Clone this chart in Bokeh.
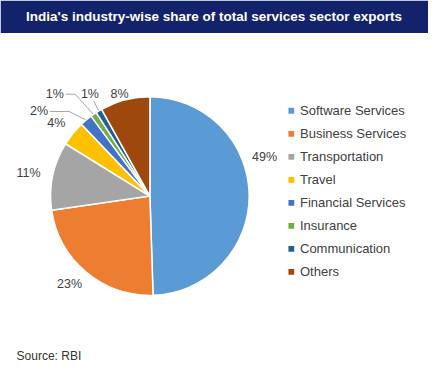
import math
from bokeh.plotting import figure
from bokeh.models import Range1d, ColumnDataSource
from bokeh.core.properties import value
from bokeh.embed import file_html
from bokeh.resources import INLINE

# ---------------- data ----------------
title_text = "India's industry-wise share of total services sector exports"
categories = ["Software Services", "Business Services", "Transportation", "Travel",
              "Financial Services", "Insurance", "Communication", "Others"]
shares = [49, 23, 11, 4, 2, 1, 1, 8]
colors = ["#5B9BD5", "#ED7D31", "#A5A5A5", "#FFC000",
          "#4472C4", "#70AD47", "#255E91", "#9E480E"]
source_note = "Source: RBI"

# ---------------- layout (reference pixels; y measured upward = 388 - page_y) ----------------
FONT = "Liberation Sans"
W, H = 428, 372
REF_W, REF_H = 444, 388
S = W / REF_W  # font scale
CX, CY, R = 155, 184, 103
LABEL_R = 125
label_nudge = [(-6, 39), (-3, 4), (-3.6, -1.6), (0, -3), (-34.6, -7.5), (-27.7, 3.3), (2, -1), (0, -14.7)]
leaders = {4: 20, 5: 10, 6: None}


def fs(px):
    return f"{px * S:.1f}px"


p = figure(width=W, height=H, x_range=Range1d(0, REF_W), y_range=Range1d(0, REF_H),
           min_border=0, toolbar_location=None, output_backend="svg",
           x_axis_location=None, y_axis_location=None)
p.outline_line_color = None
p.grid.grid_line_color = None
p.background_fill_color = "white"
p.border_fill_color = "white"

# title banner
p.quad(left=[0], right=[REF_W], bottom=[354], top=[REF_H], fill_color="#13236B", line_color=None)
p.text(x=[221.5], y=[371], text=[title_text], text_color="white",
       text_font=value(FONT), text_font_size=fs(14), text_font_style="bold",
       text_align="center", text_baseline="middle")

# pie wedges
total = float(sum(shares))
starts, ends, mids = [], [], []
cum = 0.0
for v in shares:
    t0 = cum / total * 2 * math.pi
    cum += v
    t1 = cum / total * 2 * math.pi
    starts.append(math.pi / 2 - t0)
    ends.append(math.pi / 2 - t1)
    mids.append((t0 + t1) / 2)

src = ColumnDataSource(dict(start=starts, end=ends, color=colors, cat=categories, share=shares))
p.wedge(x=CX, y=CY, radius=R, start_angle="start", end_angle="end", direction="clock",
        fill_color="color", line_color="white", line_width=1.5, source=src)

# data labels
lx, ly, lt = [], [], []
for i, v in enumerate(shares):
    th = mids[i]
    dx, dy = label_nudge[i]
    lx.append(CX + LABEL_R * math.sin(th) + dx)
    ly.append(CY + LABEL_R * math.cos(th) + dy)
    lt.append(f"{v}%")
p.text(x=lx, y=ly, text=lt, text_color="#404040", text_font=value(FONT),
       text_font_size=fs(13), text_align="center", text_baseline="middle")

# leader lines
for i, knee in leaders.items():
    th = mids[i]
    ex = CX + (R + 1) * math.sin(th)
    ey = CY + (R + 1) * math.cos(th)
    if knee is None:
        xs = [lx[i] + 4, ex]
        ys = [ly[i] - 7, ey]
    else:
        xs = [lx[i] + 11, lx[i] + 11 + knee, ex]
        ys = [ly[i], ly[i], ey]
    p.line(x=xs, y=ys, line_color="#A6A6A6", line_width=1)

# legend
leg_y = [273 - 24 * i for i in range(len(categories))]
p.scatter(x=[301.7] * len(categories), y=leg_y, marker="square", size=6 * S,
          fill_color=colors, line_color=None)
p.text(x=[310.7] * len(categories), y=leg_y, text=categories, text_color="#404040",
       text_font=value(FONT), text_font_size=fs(13.5), text_align="left", text_baseline="middle")

# source
p.text(x=[16.7], y=[17.3], text=[source_note], text_color="#333333",
       text_font=value(FONT), text_font_size=fs(12.5), text_align="left", text_baseline="middle")

open("out.html", "w").write(file_html(p, INLINE))
